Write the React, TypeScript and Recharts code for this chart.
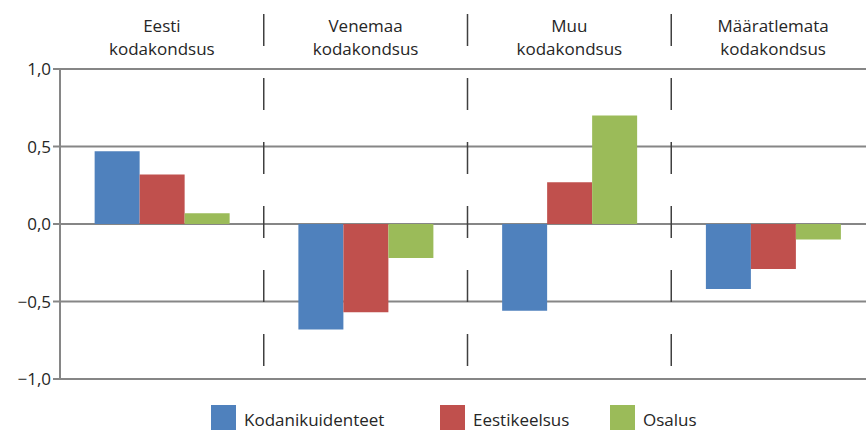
import { Bar, BarChart, CartesianGrid, XAxis, YAxis } from "recharts";

const CATEGORIES = [
  ["Eesti", "kodakondsus"],
  ["Venemaa", "kodakondsus"],
  ["Muu", "kodakondsus"],
  ["Määratlemata", "kodakondsus"],
];
const KODANIKUIDENTEET = [0.47, -0.68, -0.56, -0.42];
const EESTIKEELSUS = [0.32, -0.57, 0.27, -0.29];
const OSALUS = [0.07, -0.22, 0.7, -0.1];
const Y_TICKS = [-1, -0.5, 0, 0.5, 1];

const SERIES = [
  { key: "kodanik", name: "Kodanikuidenteet", color: "#4F81BD" },
  { key: "keel", name: "Eestikeelsus", color: "#C0504D" },
  { key: "osalus", name: "Osalus", color: "#9BBB59" },
];
// legendi elementide vasak serv (px)
const LEGEND_LEFT = [211, 440, 610];

const data = CATEGORIES.map((lines, i) => ({
  label: lines.join(" "),
  lines,
  kodanik: KODANIKUIDENTEET[i],
  keel: EESTIKEELSUS[i],
  osalus: OSALUS[i],
}));

const FONT = "'Open Sans', sans-serif";
const GRID = "#868686";
const TEXT = "#262626";

const fmt = (v: number) => v.toFixed(1).replace(".", ",").replace("-", "\u2212");

// kategooria pealkiri kahes reas + katkendlik eraldaja kategooria paremas servas
function CategoryTick(props: any) {
  const { x, payload, index } = props;
  const lines = CATEGORIES[index] ?? [String(payload.value)];
  const half = 815 / CATEGORIES.length / 2;
  return (
    <g>
      {lines.map((t, i) => (
        <text
          key={i}
          x={x}
          y={32 + i * 23}
          textAnchor="middle"
          fontFamily={FONT}
          fontSize={17}
          fill={TEXT}
        >
          {t}
        </text>
      ))}
      {index < CATEGORIES.length - 1 && (
        <line
          x1={x + half}
          x2={x + half}
          y1={14}
          y2={366}
          stroke="#404040"
          strokeWidth={1.5}
          strokeDasharray="32 32"
        />
      )}
    </g>
  );
}

export default function App() {
  return (
    <div
      style={{
        position: "absolute",
        top: 0,
        left: 0,
        width: 866,
        height: 430,
        overflow: "hidden",
        background: "#fff",
      }}
    >
      <BarChart
        width={875}
        height={430}
        data={data}
        margin={{ top: 0, right: 0, bottom: 51, left: 0 }}
        barCategoryGap="17%"
        barGap={0}
      >
        <CartesianGrid vertical={false} stroke={GRID} strokeWidth={2} />
        <XAxis
          dataKey="label"
          orientation="top"
          height={69}
          axisLine={false}
          tickLine={false}
          interval={0}
          tick={<CategoryTick />}
        />
        <YAxis
          width={60}
          domain={[-1, 1]}
          ticks={Y_TICKS}
          tickFormatter={fmt}
          axisLine={{ stroke: GRID, strokeWidth: 2 }}
          tickLine={{ stroke: GRID, strokeWidth: 2 }}
          tickSize={7}
          tick={{ fill: TEXT, fontSize: 17, fontFamily: FONT }}
        />
        {SERIES.map((s) => (
          <Bar key={s.key} dataKey={s.key} name={s.name} fill={s.color} isAnimationActive={false} />
        ))}
      </BarChart>
      {SERIES.map((s, i) => (
        <div
          key={s.key}
          style={{
            position: "absolute",
            top: 405,
            left: LEGEND_LEFT[i],
            display: "flex",
            alignItems: "flex-start",
            gap: 8,
            fontFamily: FONT,
            fontSize: 17,
            color: TEXT,
            whiteSpace: "nowrap",
          }}
        >
          <div style={{ width: 25, height: 25, background: s.color }} />
          <span style={{ lineHeight: "17px", marginTop: 6 }}>{s.name}</span>
        </div>
      ))}
    </div>
  );
}
